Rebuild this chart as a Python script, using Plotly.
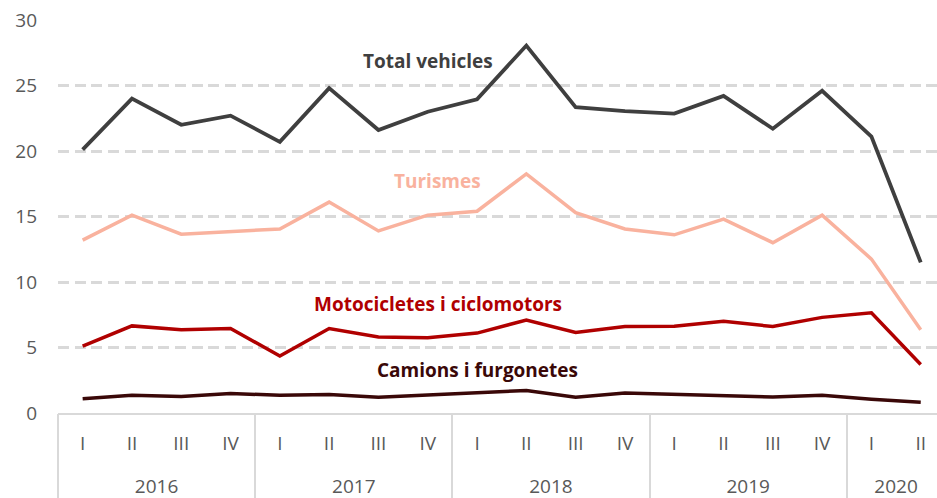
import plotly.graph_objects as go

years = ["2016", "2017", "2018", "2019", "2020"]
year_quarters = [4, 4, 4, 4, 2]
quarters = ["I", "II", "III", "IV"]*4 + ["I", "II"]

total = [20.1, 24.0, 22.0, 22.7, 20.7, 24.8, 21.6, 23.0, 23.95, 28.05, 23.35, 23.05, 22.85, 24.2, 21.7, 24.6, 21.1, 11.5]
turismes = [13.2, 15.1, 13.65, 13.85, 14.05, 16.1, 13.9, 15.1, 15.4, 18.25, 15.3, 14.05, 13.6, 14.8, 13.0, 15.1, 11.75, 6.35]
motos = [5.1, 6.65, 6.35, 6.45, 4.35, 6.45, 5.8, 5.75, 6.1, 7.1, 6.15, 6.6, 6.62, 7.0, 6.6, 7.3, 7.65, 3.7]
camions = [1.08, 1.35, 1.26, 1.48, 1.36, 1.41, 1.2, 1.4, 1.54, 1.72, 1.2, 1.52, 1.41, 1.36, 1.22, 1.36, 1.05, 0.82]

series = [
    ("Total vehicles", total, "#3f3f3f", 3.8),
    ("Turismes", turismes, "#f9b29e", 3.5),
    ("Motocicletes i ciclomotors", motos, "#b00000", 3.5),
    ("Camions i furgonetes", camions, "#3a0808", 3.5),
]

labels = [
    ("Total vehicles", 7.0, 26.9, "#3f3f3f"),
    ("Turismes", 7.2, 17.7, "#f9b29e"),
    ("Motocicletes i ciclomotors", 7.2, 8.3, "#b00000"),
    ("Camions i furgonetes", 8.0, 3.3, "#3a0808"),
]

xi = list(range(len(quarters)))
# group boundaries and centres from year_quarters
bounds, centres, pos = [-0.5], [], -0.5
for n in year_quarters:
    centres.append(pos + n / 2)
    pos += n
    bounds.append(pos)

fig = go.Figure()
for name, vals, color, w in series:
    fig.add_trace(go.Scatter(x=xi, y=vals, mode="lines", name=name,
                             line=dict(color=color, width=w), hoverinfo="y"))
# empty helper traces so the divider / year axes are drawn
for ax in ("x2", "x3"):
    fig.add_trace(go.Scatter(x=xi, y=[None]*len(xi), xaxis=ax, yaxis="y",
                             mode="lines", showlegend=False, hoverinfo="skip"))

for text, xv, yv, color in labels:
    fig.add_annotation(x=xv, y=yv, xref="x", yref="y", text="<b>%s</b>" % text,
                       showarrow=False, font=dict(family="Open Sans", size=19, color=color))

xr = [-0.5, 17.33]
fig.update_layout(
    width=937, height=498,
    margin=dict(l=58, r=0, t=20, b=85, autoexpand=False),
    paper_bgcolor="white", plot_bgcolor="white",
    showlegend=False,
    font=dict(family="Open Sans", size=19, color="#595959"),
    xaxis=dict(range=xr, tickvals=xi, ticktext=quarters,
               showgrid=False, showline=True, linecolor="#d9d9d9", linewidth=1.5,
               zeroline=False, ticks="", ticklabelstandoff=12,
               tickfont=dict(size=19, color="#595959")),
    xaxis2=dict(range=xr, overlaying="x", anchor="y", side="bottom",
                tickvals=bounds[:-1], showticklabels=False, ticks="outside",
                ticklen=90, tickcolor="#d9d9d9", tickwidth=1.5,
                showgrid=False, zeroline=False, showline=False),
    xaxis3=dict(range=xr, overlaying="x", anchor="y", side="bottom",
                tickvals=centres, ticktext=years, ticks="",
                ticklabelstandoff=60, tickfont=dict(size=19, color="#595959"),
                showgrid=False, zeroline=False, showline=False),
    yaxis=dict(range=[0, 30], dtick=5, showgrid=True, gridcolor="#d9d9d9",
               griddash="11px,5.7px", gridwidth=3.2, zeroline=False,
               tickfont=dict(size=19, color="#595959"), ticks="",
               ticklabelstandoff=20),
)

fig.write_html("out.html", config={"displayModeBar": False},
               post_script="document.body.style.margin='0';")
